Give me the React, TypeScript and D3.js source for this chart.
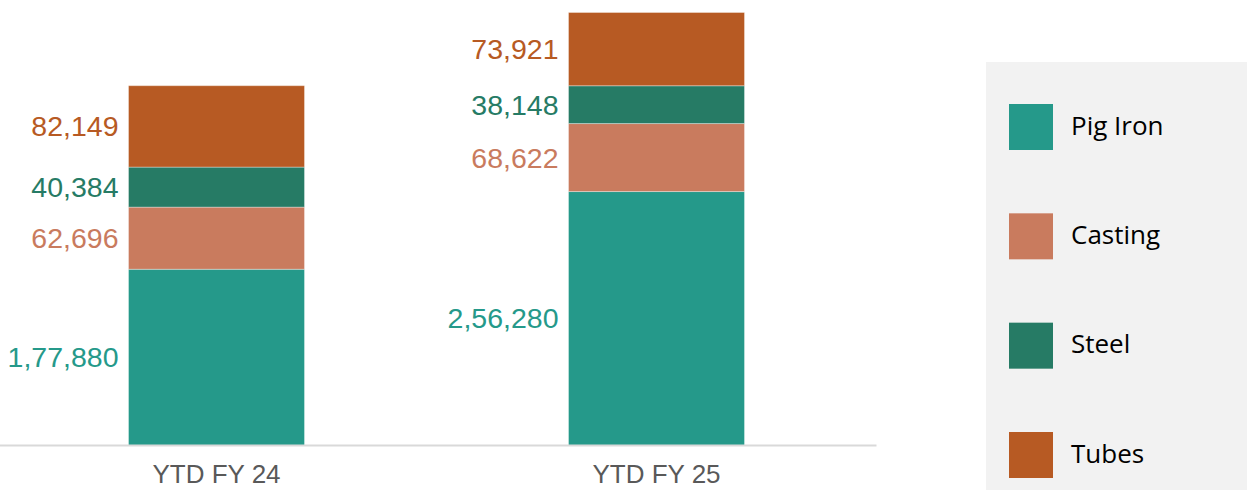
import React, { useEffect, useRef } from 'react';
import * as d3 from 'd3';

const categories = ['YTD FY 24', 'YTD FY 25'];
const seriesNames = ['Pig Iron', 'Casting', 'Steel', 'Tubes'];
const pigIron = [177880, 256280];
const casting = [62696, 68622];
const steel = [40384, 38148];
const tubes = [82149, 73921];
const seriesColors = ['#25998A', '#C97B5E', '#267B65', '#B75A23'];

const W = 1247;
const H = 490;

// Indian grouping, e.g. 1,77,880
const fmtIN = (v: number) => v.toLocaleString('en-IN');

const App: React.FC = () => {
  const ref = useRef<SVGSVGElement>(null);

  useEffect(() => {
    const svg = d3.select(ref.current);
    svg.selectAll('*').remove();

    const rows = categories.map((c, i) => ({
      cat: c,
      'Pig Iron': pigIron[i],
      Casting: casting[i],
      Steel: steel[i],
      Tubes: tubes[i],
    }));
    const stacked = d3.stack<any>().keys(seriesNames)(rows);
    const maxTotal = d3.max(rows, (r) => r['Pig Iron'] + r.Casting + r.Steel + r.Tubes) || 0;

    const x = d3.scaleBand()
      .domain(categories)
      .range([-3.5, 876.5])
      .paddingInner(0.6)
      .paddingOuter(0.3);

    const y = d3.scaleLinear()
      .domain([0, maxTotal])
      .range([445.5, 12.5]);

    const color = d3.scaleOrdinal<string>().domain(seriesNames).range(seriesColors);

    // bars
    const layers = svg.append('g')
      .selectAll('g')
      .data(stacked)
      .enter()
      .append('g')
      .attr('fill', (d) => color(d.key));

    layers.selectAll('rect')
      .data((d) => d)
      .enter()
      .append('rect')
      .attr('x', (d: any) => x(d.data.cat)!)
      .attr('y', (d) => y(d[1]))
      .attr('width', x.bandwidth())
      .attr('height', (d) => y(d[0]) - y(d[1]))
      .attr('stroke', 'rgba(255,255,255,0.35)')
      .attr('stroke-width', 1);

    // value labels, left of each bar
    layers.selectAll('text')
      .data((d) => d.map((p) => ({ p, key: d.key })))
      .enter()
      .append('text')
      .attr('x', (d: any) => x(d.p.data.cat)! - 10)
      .attr('y', (d) => (y(d.p[0]) + y(d.p[1])) / 2)
      .attr('dy', '0.35em')
      .attr('text-anchor', 'end')
      .attr('font-family', '"Liberation Sans", Arial, sans-serif')
      .attr('font-size', 28.5)
      .attr('fill', (d) => color(d.key))
      .text((d) => fmtIN(d.p[1] - d.p[0]));

    // x axis
    const axis = svg.append('g')
      .attr('transform', `translate(0,${y(0)})`)
      .call(d3.axisBottom(x).tickSize(0).tickPadding(30));
    axis.select('.domain')
      .attr('d', `M0,0H876.5`)
      .attr('stroke', '#d9d9d9')
      .attr('stroke-width', 2);
    axis.selectAll('.tick text')
      .attr('font-family', '"Liberation Sans", Arial, sans-serif')
      .attr('font-size', 26)
      .attr('fill', '#595959')
      .attr('dy', '0.3em');

    // legend
    const legend = svg.append('g');
    legend.append('rect')
      .attr('x', 986)
      .attr('y', 62)
      .attr('width', W - 986)
      .attr('height', H - 62)
      .attr('fill', '#f2f2f2');

    const ly = d3.scalePoint().domain(seriesNames).range([127, 455]);
    const items = legend.selectAll('g.item')
      .data(seriesNames)
      .enter()
      .append('g')
      .attr('class', 'item')
      .attr('transform', (d) => `translate(1009,${ly(d)})`);
    items.append('rect')
      .attr('x', 0)
      .attr('y', -23)
      .attr('width', 44)
      .attr('height', 46)
      .attr('fill', (d) => color(d));
    items.append('text')
      .attr('x', 62)
      .attr('y', 0)
      .attr('dy', '0.3em')
      .attr('font-family', '"Open Sans", "Noto Sans", sans-serif')
      .attr('font-size', 26)
      .attr('fill', '#000')
      .text((d) => d);
  }, []);

  return (
    <svg
      ref={ref}
      width={W}
      height={H}
      style={{ position: 'absolute', left: 0, top: 0, display: 'block', background: '#fff' }}
    />
  );
};

export default App;
